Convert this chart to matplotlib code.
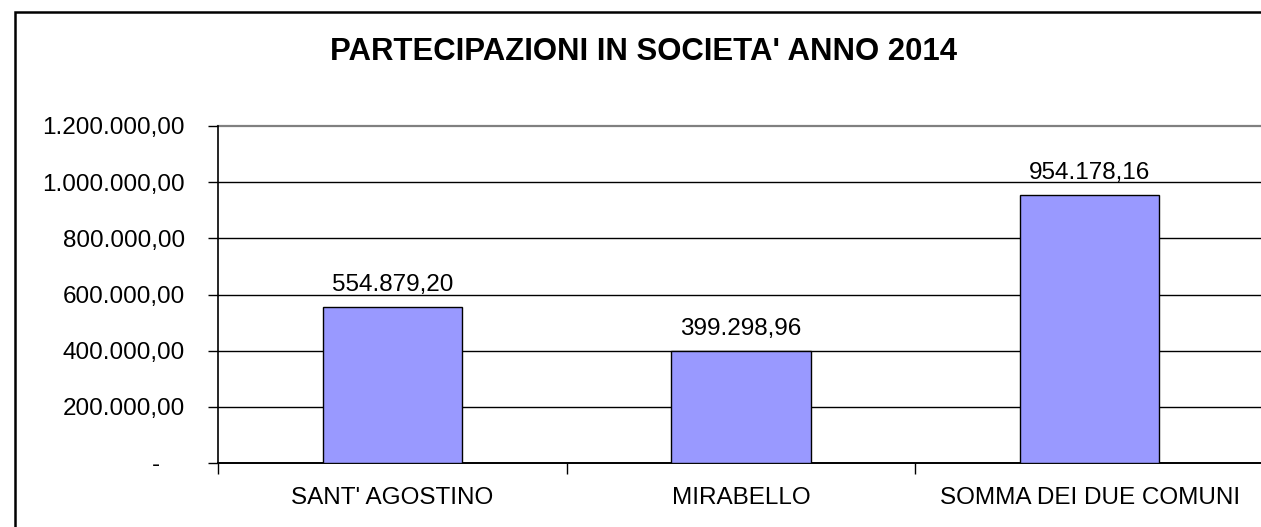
import matplotlib
matplotlib.use("Agg")
import matplotlib.pyplot as plt
from matplotlib.patches import Rectangle
from matplotlib.ticker import FixedLocator
import matplotlib.transforms as mtransforms

categories = ["SANT' AGOSTINO", "MIRABELLO", "SOMMA DEI DUE COMUNI"]
values = [554879.20, 399298.96, 954178.16]
value_labels = ["554.879,20", "399.298,96", "954.178,16"]
yticks = [0, 200000, 400000, 600000, 800000, 1000000, 1200000]
ytick_labels = ["-", "200.000,00", "400.000,00", "600.000,00", "800.000,00", "1.000.000,00", "1.200.000,00"]
title = "PARTECIPAZIONI IN SOCIETA' ANNO 2014"

plt.rcParams['font.family'] = ['Liberation Sans', 'DejaVu Sans']

W, H = 1261, 527
fig = plt.figure(figsize=(W/100, H/100), dpi=100)

# outer chart border
fig.patches.append(Rectangle((14.5/W, -0.1), 1.2, 1 - 11.5/H + 0.1, transform=fig.transFigure,
                             fill=False, edgecolor='black', linewidth=1.8))

ax = fig.add_axes([218/W, 1 - 463/H, (1264-218)/W, (463-126)/H])
x = list(range(len(categories)))
ax.bar(x, values, width=0.4, color='#9999FF', edgecolor='black', linewidth=1.0, zorder=3)
ax.set_xlim(-0.5, len(categories) - 0.5)
ax.set_ylim(0, 1200000)

for s in ['top', 'right', 'bottom']:
    ax.spines[s].set_visible(False)
ax.spines['left'].set_linewidth(1.2)

fs = 17.5
ax.set_yticks(yticks)
ax.set_yticklabels(ytick_labels, fontsize=fs)
ax.tick_params(axis='y', length=7, width=1.0, pad=17)
# Excel accounting format: dash sits further left
lab0 = ax.get_yticklabels()[0]
lab0.set_transform(lab0.get_transform() + mtransforms.ScaledTranslation(-25/100, 0, fig.dpi_scale_trans))
for yv in yticks:
    if yv == yticks[-1]:
        col, lw = '#808080', 1.6
    elif yv == 0:
        col, lw = 'black', 1.4
    else:
        col, lw = 'black', 1.0
    ax.axhline(yv, color=col, linewidth=lw, zorder=1, clip_on=False)

ax.xaxis.set_major_locator(FixedLocator([i - 0.5 for i in range(len(categories) + 1)]))
ax.xaxis.set_minor_locator(FixedLocator(x))
ax.set_xticklabels([''] * (len(categories) + 1))
ax.set_xticklabels(categories, minor=True, fontsize=fs)
ax.tick_params(axis='x', which='major', length=8, width=1.0, direction='out')
ax.tick_params(axis='x', which='minor', length=0, pad=17)

for xi, v, lab in zip(x, values, value_labels):
    ax.annotate(lab, (xi, v), xytext=(0, 8), textcoords='offset points',
                ha='center', va='bottom', fontsize=fs)

fig.text(644/W, 1 - 52/H, title, ha='center', va='center', fontsize=22.4, fontweight='bold')

fig.savefig('out.png', dpi=100)
